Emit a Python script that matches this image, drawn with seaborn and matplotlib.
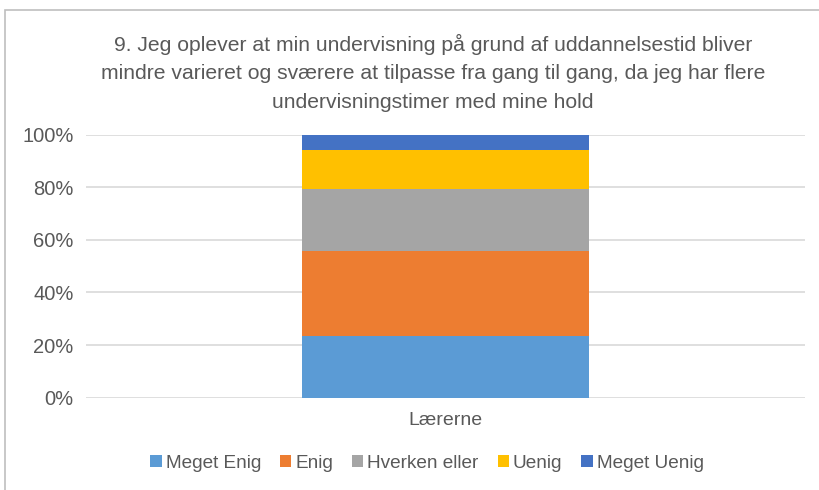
import matplotlib
matplotlib.use("Agg")
import matplotlib.pyplot as plt
import seaborn as sns
import pandas as pd
import numpy as np
from matplotlib.patches import Patch, Rectangle

# ---- data ----
group = ["Lærerne"]
series = ["Meget Enig", "Enig", "Hverken eller", "Uenig", "Meget Uenig"]
counts = [8, 11, 8, 5, 2]          # responses (shares)
colors = ["#5B9BD5", "#ED7D31", "#A5A5A5", "#FFC000", "#4472C4"]
yticks = [0, 20, 40, 60, 80, 100]
ytick_labels = ["0%", "20%", "40%", "60%", "80%", "100%"]
title = ("9. Jeg oplever at min undervisning på grund af uddannelsestid bliver\n"
         "mindre varieret og sværere at tilpasse fra gang til gang, da jeg har flere\n"
         "undervisningstimer med mine hold")

shares = np.array(counts, dtype=float) / sum(counts) * 100
cum = np.cumsum(shares)

sns.set_theme(style="white")
plt.rcParams["font.family"] = ["Liberation Sans", "DejaVu Sans"]
TXT = "#595959"

fig = plt.figure(figsize=(8.2, 4.9), dpi=100)
ax = fig.add_axes([86/820, 1-397.7/490, (805-86)/820, (397.7-134.7)/490])

# stacked 100% bar: draw cumulative totals from the top down
for i in reversed(range(len(series))):
    df = pd.DataFrame({"grp": group, "val": [cum[i]]})
    sns.barplot(data=df, x="grp", y="val", color=colors[i], width=0.4,
                saturation=1, ax=ax, edgecolor="none", linewidth=0, zorder=2)

ax.set_xlim(-0.5, 0.5)
ax.set_ylim(0, 100)
ax.set_yticks(yticks)
ax.set_yticklabels(ytick_labels)
ax.set_xlabel("")
ax.set_ylabel("")
ax.yaxis.grid(True, color="#D9D9D9", linewidth=1.2, zorder=0)
ax.set_axisbelow(True)
for s in ax.spines.values():
    s.set_visible(False)
ax.tick_params(axis="y", length=0, pad=9, labelsize=14.5, labelcolor=TXT)
ax.tick_params(axis="x", length=0, pad=10, labelsize=14, labelcolor=TXT)

fig.text(433/820, 1-34/490, title, ha="center", va="top", fontsize=15.2,
         color=TXT, linespacing=1.62, transform=fig.transFigure)

handles = [Patch(facecolor=c, edgecolor="none", label=l) for c, l in zip(colors, series)]
fig.legend(handles=handles, loc="center", bbox_to_anchor=(427/820, 1-463/490),
           ncol=5, frameon=False, fontsize=13.7, handlelength=0.6, handleheight=0.6,
           handletextpad=0.2, columnspacing=1.0, labelcolor=TXT)

fig.patches.append(Rectangle((5/820, -0.05), 1.2, 1-10/490+0.05, transform=fig.transFigure,
                             fill=False, edgecolor="#BFBFBF", linewidth=1.2, zorder=0))

fig.savefig("out.png", dpi=100)
